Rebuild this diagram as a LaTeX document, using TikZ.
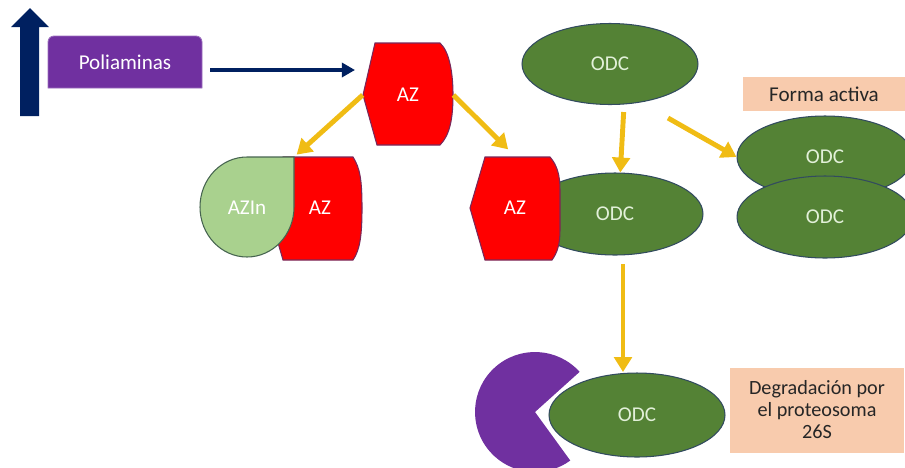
\documentclass[tikz,border=0pt]{standalone}
\usepackage{fontspec}
\setmainfont{Carlito}
\usetikzlibrary{arrows.meta, shapes.geometric}

\definecolor{navyblue}{RGB}{0,32,96}
\definecolor{polipurple}{RGB}{112,48,160}
\definecolor{azred}{RGB}{255,0,0}
\definecolor{azline}{RGB}{120,40,90}
\definecolor{azingreen}{RGB}{169,209,142}
\definecolor{azinline}{RGB}{70,100,80}
\definecolor{odcgreen}{RGB}{84,130,53}
\definecolor{odcline}{RGB}{50,75,95}
\definecolor{odctext}{RGB}{226,240,217}
\definecolor{arrowyellow}{RGB}{240,188,20}
\definecolor{peach}{RGB}{248,203,173}

\begin{document}
\begin{tikzpicture}[x=0.02cm, y=-0.02cm, font=\fontsize{12}{14}\selectfont,
    odc/.style={ellipse, fill=odcgreen, draw=odcline, line width=0.6pt, text=odctext},
    aztxt/.style={minimum width=1.8cm, minimum height=2.06cm, inner sep=0pt, text=white},
    azshape/.style={fill=azred, draw=azline, line width=0.6pt},
    yarr/.style={-{Triangle[width=10pt,length=8.5pt]}, line width=2.8pt, arrowyellow},
    peachbox/.style={rectangle, fill=peach, text=black!85, inner sep=0pt}]
    \useasboundingbox (0,0) rectangle (905,467);

    % Polyamines going up
    \draw[fill=navyblue, draw=none] (20,116) -- (20,27) -- (11,27) -- (30,8) -- (49,27) -- (39,27) -- (39,116) -- cycle;
    \draw[fill=polipurple, draw=polipurple!70!white, line width=0.5pt] (48,88) -- (48,42) arc[start angle=180, end angle=270, radius=6]
        -- (196,36) arc[start angle=270, end angle=360, radius=6] -- (202,88) -- cycle;
    \node[text=white, minimum width=3.08cm, minimum height=1.04cm] (poli) at (125,62) {Poliaminas};

    % Antizyme
    \draw[azshape] (375,43) -- (440,43) .. controls (450,52) and (453,75) .. (453,95)
        .. controls (453,118) and (450,135) .. (440,145) -- (377,145) -- (363,95) -- cycle;
    \node[aztxt] (az1) at (408,95) {AZ};
    \coordinate (azdock) at (355,70);
    \draw[-{Triangle[width=8pt,length=7.5pt]}, line width=2.2pt, navyblue] ([shift={(8,8)}]poli.east) -- (azdock);

    % AZ bound to the inhibitor
    \draw[azshape] (283,157) -- (353,157) .. controls (360,168) and (362,180) .. (362,208)
        .. controls (362,235) and (360,250) .. (353,260) -- (283,260) -- (268,208) -- cycle;
    \node[aztxt] (az2) at (320,208) {AZ};
    \draw[fill=azingreen, draw=azinline, line width=0.6pt] (294,207) arc[start angle=0, end angle=270, x radius=47, y radius=50] -- (294,157) -- cycle;
    \node[text=white] (azin) at (247,208) {AZIn};
    \coordinate (azjoin) at (294,157);

    % ODC
    \node[odc, minimum width=3.52cm, minimum height=1.62cm] (odc1) at (610,64) {ODC};
    \node[odc, minimum width=3.52cm, minimum height=1.64cm] (odc2) at (615,214) {ODC};
    \draw[azshape] (485,157) -- (550,157) .. controls (557,165) and (560,175) .. (560,190) -- (560,230)
        .. controls (560,245) and (557,253) .. (552,260) -- (485,260) -- (470,208) -- cycle;
    \node[aztxt] (az3) at (515,208) {AZ};

    % Active form
    \node[peachbox, minimum width=3.24cm, minimum height=0.68cm] (activa) at (824,94) {Forma activa};
    \node[odc, minimum width=3.52cm, minimum height=1.64cm] (odc3) at (825,157) {ODC};
    \node[odc, minimum width=3.52cm, minimum height=1.64cm] (odc4) at (825,217) {ODC};

    % Degradation
    \draw[fill=polipurple, draw=none] (535,412) -- ++(-42:60) arc[start angle=-42, end angle=-306, radius=60] -- cycle;
    \node[odc, minimum width=3.52cm, minimum height=1.68cm] (odc5) at (637,415) {ODC};
    \node[peachbox, minimum width=3.5cm, minimum height=1.7cm, align=center, font=\fontsize{11.5}{12.5}\selectfont] (degr) at (817,410)
        {Degradación por\\el proteosoma\\26S};

    % Arrows
    \coordinate (act) at (668,118);
    \coordinate (deg) at (623,372);
    \draw[yarr, shorten >=2pt] (az1.west) -- (azjoin);
    \draw[yarr, shorten >=5.5pt] (az1.east) -- (az3.north);
    \draw[yarr, shorten <=4pt] ([xshift=8]odc1.south) -- ([xshift=3]odc2.north);
    \draw[yarr] (act) -- (odc3.west);
    \draw[yarr, shorten <=5pt] (odc2.south -| deg) -- (deg);
\end{tikzpicture}
\end{document}
